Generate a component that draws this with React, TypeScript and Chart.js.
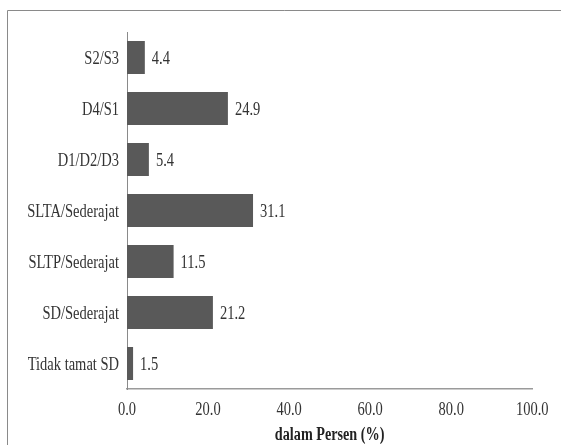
import React, { useEffect, useRef } from "react";
import { Chart, registerables } from "chart.js";

Chart.register(...registerables);

const categories = [
  "S2/S3",
  "D4/S1",
  "D1/D2/D3",
  "SLTA/Sederajat",
  "SLTP/Sederajat",
  "SD/Sederajat",
  "Tidak tamat SD",
];
const values = [4.4, 24.9, 5.4, 31.1, 11.5, 21.2, 1.5];
const xTicks = [0, 20, 40, 60, 80, 100];
const xTitle = "dalam Persen (%)";

const FONT = "'Liberation Serif', 'Times New Roman', serif";
const TEXT_COLOR = "#333333";
const STRETCH = 1.35;

function drawStretched(
  ctx: CanvasRenderingContext2D,
  text: string,
  x: number,
  y: number,
  align: CanvasTextAlign,
  font: string,
  color: string
) {
  ctx.save();
  ctx.translate(x, y);
  ctx.scale(1, STRETCH);
  ctx.font = font;
  ctx.fillStyle = color;
  ctx.textAlign = align;
  ctx.textBaseline = "middle";
  ctx.fillText(text, 0, 0);
  ctx.restore();
}

const stretchedText = {
  id: "stretchedText",
  afterDraw(chart: any) {
    const ctx = chart.ctx as CanvasRenderingContext2D;
    const xs = chart.scales.x;
    const ys = chart.scales.y;
    const normal = `14.5px ${FONT}`;
    // y-axis category labels
    ys.ticks.forEach((t: any, i: number) => {
      const lbl = chart.data.labels[t.value] ?? t.label;
      drawStretched(ctx, String(lbl), ys.right - 8, ys.getPixelForTick(i) + 1, "right", normal, TEXT_COLOR);
    });
    // x-axis tick labels
    xs.ticks.forEach((t: any, i: number) => {
      drawStretched(ctx, Number(t.value).toFixed(1), xs.getPixelForTick(i), xs.top + 21, "center", normal, TEXT_COLOR);
    });
    // axis title
    drawStretched(
      ctx,
      xTitle,
      (xs.left + xs.right) / 2,
      xs.bottom - 10,
      "center",
      `bold 14.2px ${FONT}`,
      "#222222"
    );
    // value labels
    const meta = chart.getDatasetMeta(0);
    meta.data.forEach((el: any, i: number) => {
      drawStretched(ctx, values[i].toFixed(1), el.x + 7, el.y + 1, "left", normal, TEXT_COLOR);
    });
  },
};

const frame = {
  id: "frame",
  beforeDraw(chart: any) {
    const ctx = chart.ctx;
    ctx.save();
    ctx.fillStyle = "#ffffff";
    ctx.fillRect(0, 0, chart.width, chart.height);
    ctx.strokeStyle = "#8a8a8a";
    ctx.lineWidth = 1;
    ctx.beginPath();
    ctx.moveTo(7.5, chart.height + 5);
    ctx.lineTo(7.5, 10.5);
    ctx.lineTo(chart.width + 5, 10.5);
    ctx.stroke();
    ctx.restore();
  },
};

export default function App() {
  const ref = useRef<HTMLCanvasElement>(null);
  useEffect(() => {
    if (!ref.current) return;
    const chart = new Chart(ref.current, {
      type: "bar",
      data: {
        labels: categories,
        datasets: [
          {
            data: values,
            backgroundColor: "#595959",
            borderWidth: 0,
            categoryPercentage: 0.65,
            barPercentage: 1,
          },
        ],
      },
      options: {
        indexAxis: "y",
        animation: false,
        responsive: false,
        layout: { padding: { left: 0, top: 32, right: 24, bottom: 0 } },
        plugins: { legend: { display: false }, tooltip: { enabled: false } },
        scales: {
          x: {
            min: 0,
            max: 100,
            afterFit(scale: any) {
              scale.height = 56;
            },
            afterBuildTicks(scale: any) {
              scale.ticks = xTicks.map((v) => ({ value: v }));
            },
            grid: { display: false, drawTicks: false },
            border: { display: true, color: "#9a9a9a", width: 1.5 },
            ticks: {
              padding: 13,
              color: "rgba(0,0,0,0)",
              font: { family: FONT, size: 14 },
              callback: (v: any) => Number(v).toFixed(1),
            },
            title: {
              display: true,
              text: xTitle,
              color: "rgba(0,0,0,0)",
              font: { family: FONT, size: 14, weight: "bold" },
              padding: { top: 0, bottom: 0 },
            },
          },
          y: {
            afterFit(scale: any) {
              scale.width = 127;
            },
            grid: { display: false, drawTicks: false },
            border: { display: true, color: "#8a8a8a", width: 1 },
            ticks: {
              padding: 10,
              color: "rgba(0,0,0,0)",
              font: { family: FONT, size: 14 },
            },
          },
        },
      },
      plugins: [frame, stretchedText],
    });
    return () => chart.destroy();
  }, []);
  return (
    <div style={{ position: "fixed", left: 0, top: 0, width: 561, height: 445 }}>
      <canvas ref={ref} width={561} height={445} style={{ width: 561, height: 445 }} />
    </div>
  );
}
